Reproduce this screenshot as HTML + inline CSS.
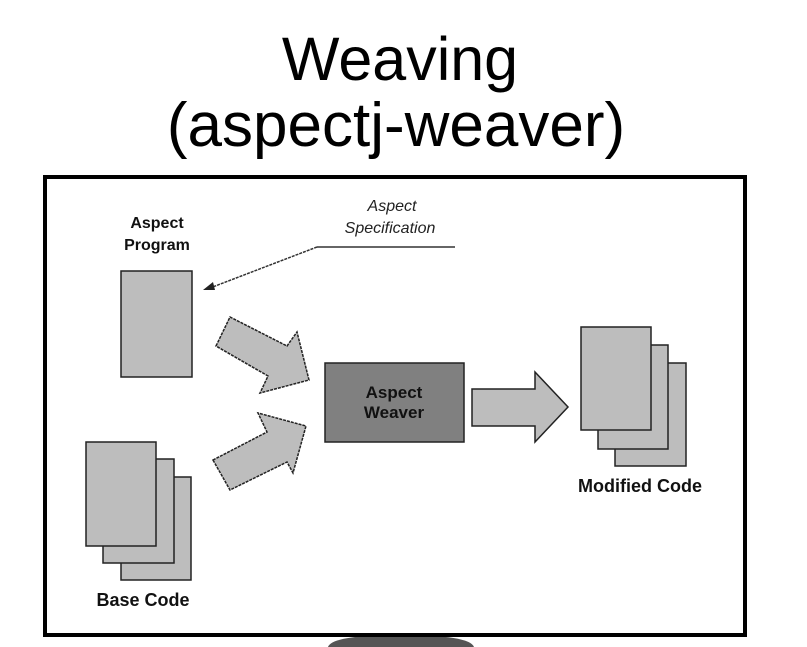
<!DOCTYPE html>
<html><head><style>
html,body{margin:0;padding:0;background:#fff;width:807px;height:647px;overflow:hidden}
</style></head><body>
<svg width="807" height="647" viewBox="0 0 807 647" xmlns="http://www.w3.org/2000/svg">
<text x="400" y="80" font-family="Liberation Sans, sans-serif" font-size="61" text-anchor="middle" fill="#000">Weaving</text>
<text x="396" y="146" font-family="Liberation Sans, sans-serif" font-size="62" text-anchor="middle" fill="#000">(aspectj-weaver)</text>
<path d="M328 647 Q332 635 400 635 Q470 635 474 647 Z" fill="#555"/>
<rect x="45" y="177" width="700" height="458" fill="#fff" stroke="#000" stroke-width="4"/>
<line x1="317" y1="247" x2="455" y2="247" stroke="#333" stroke-width="1.5"/>
<line x1="317" y1="247" x2="210" y2="288" stroke="#333" stroke-width="1.5" stroke-dasharray="3,1"/>
<polygon points="203,290 213,282 215,290" fill="#222"/>
<g stroke="#222" stroke-width="1.5" fill="#bdbdbd">
<rect x="121" y="271" width="71" height="106"/>
<rect x="121" y="477" width="70" height="103"/>
<rect x="103" y="459" width="71" height="104"/>
<rect x="86" y="442" width="70" height="104"/>
<rect x="615" y="363" width="71" height="103"/>
<rect x="598" y="345" width="70" height="104"/>
<rect x="581" y="327" width="70" height="103"/>
<polygon points="216,346 230,317 287,346 297,332 309,380 260,393 268,376" stroke-dasharray="3,1"/>
<polygon points="213,460 230,490 287,462 293,473 306,426 258,413 267,432" stroke-dasharray="3,1"/>
<polygon points="472,389 535,389 535,372 568,407 535,442 535,426 472,426"/>
</g>
<rect x="325" y="363" width="139" height="79" fill="#808080" stroke="#222" stroke-width="1.5"/>
<g font-family="Liberation Sans, sans-serif" font-weight="bold" font-size="16" text-anchor="middle" fill="#111">
<text x="157" y="228">Aspect</text>
<text x="157" y="250">Program</text>
<text x="143" y="606" font-size="18">Base Code</text>
<text x="640" y="492" font-size="18">Modified Code</text>
<text x="394" y="398" font-size="17">Aspect</text>
<text x="394" y="418" font-size="17">Weaver</text>
</g>
<g font-family="Liberation Sans, sans-serif" font-style="italic" font-size="16" text-anchor="middle" fill="#222">
<text x="392" y="211">Aspect</text>
<text x="390" y="233">Specification</text>
</g>
</svg>
</body></html>
